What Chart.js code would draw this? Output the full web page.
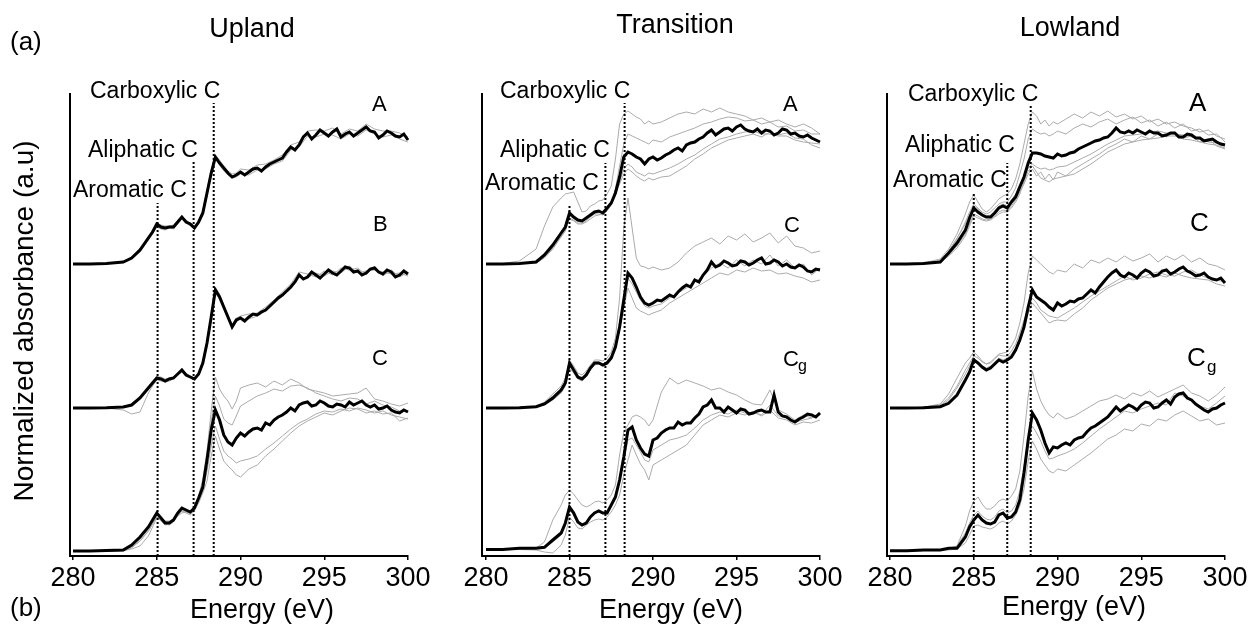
<!DOCTYPE html>
<html><head><meta charset="utf-8">
<script src="https://cdn.jsdelivr.net/npm/chart.js@4.4.1/dist/chart.umd.min.js"></script>
<style>
html,body{margin:0;padding:0;background:#fff;}
#wrap{position:relative;width:1252px;height:627px;overflow:hidden;background:#fff;}
canvas{position:absolute;left:0;top:0;}
</style></head><body><div id="wrap">
<canvas id="c1" width="1252" height="627"></canvas>
<canvas id="c2" width="1252" height="627"></canvas>
<canvas id="c3" width="1252" height="627"></canvas>
</div>
<script>
// ---------- DATA ----------
// energy grid of the individual (grey) spectra
const energy = [280,281,282,283,283.5,284,284.5,284.75,285,285.25,285.5,285.75,286,286.25,286.5,286.75,287,287.25,287.5,287.75,288,288.25,288.5,288.75,289,289.25,289.5,289.75,290,290.5,291,291.5,292,292.5,293,293.5,294,294.5,295,295.5,296,296.5,297,297.5,298,298.5,299,299.5,300];
// energy grid of the mean (black) spectra
const energyFine = [280,281,282,283,283.5,284,284.5,284.75,285,285.25,285.5,285.75,286,286.25,286.5,286.75,287,287.25,287.5,287.75,288,288.25,288.5,288.75,289,289.25,289.5,289.75,290,290.25,290.5,290.75,291,291.25,291.5,291.75,292,292.25,292.5,292.75,293,293.25,293.5,293.75,294,294.25,294.5,294.75,295,295.25,295.5,295.75,296,296.25,296.5,296.75,297,297.25,297.5,297.75,298,298.25,298.5,298.75,299,299.25,299.5,299.75,300];
const tickValues = [280,285,290,295,300];

// Upland
const uplandA = [0,0,0.005,0.02,0.06,0.14,0.26,0.32,0.40,0.37,0.36,0.37,0.37,0.42,0.47,0.42,0.40,0.36,0.42,0.51,0.71,0.91,1.07,1.01,0.96,0.91,0.87,0.89,
 0.92,0.89,0.92,0.95,0.96,0.93,0.97,1.00,1.02,1.04,1.06,1.12,1.17,1.14,1.19,1.27,1.31,1.25,1.29,1.34,1.31,1.28,1.32,1.35,1.27,1.30,1.32,1.28,1.31,1.34,1.37,1.33,1.32,1.26,1.29,1.33,1.31,1.28,1.27,1.30,1.24];
const uplandA_s1 = [0,0,0.005,0.02,0.07,0.16,0.28,0.34,0.41,0.39,0.38,0.38,0.39,0.43,0.48,0.44,0.41,0.38,0.43,0.53,0.74,0.94,1.09,1.04,0.98,0.93,0.90,0.91,0.95,0.94,0.99,1.00,1.04,1.09,1.19,1.22,1.33,1.34,1.33,1.36,1.30,1.35,1.33,1.40,1.35,1.33,1.33,1.31,1.27];
const uplandA_s2 = [0,0,0.005,0.015,0.05,0.12,0.24,0.30,0.37,0.35,0.34,0.36,0.35,0.40,0.45,0.41,0.38,0.35,0.40,0.49,0.68,0.88,1.05,0.99,0.93,0.89,0.86,0.87,0.90,0.89,0.94,0.95,1.00,1.03,1.14,1.17,1.28,1.27,1.30,1.29,1.25,1.30,1.28,1.34,1.30,1.27,1.29,1.25,1.22];
const uplandB = [0,0,0.003,0.01,0.03,0.10,0.20,0.25,0.30,0.29,0.27,0.29,0.30,0.34,0.38,0.33,0.31,0.29,0.34,0.45,0.65,0.91,1.18,1.11,1.01,0.91,0.81,0.88,
 0.90,0.87,0.91,0.94,0.93,0.96,0.98,1.02,1.06,1.10,1.13,1.17,1.21,1.26,1.33,1.29,1.31,1.36,1.33,1.30,1.34,1.38,1.35,1.33,1.37,1.41,1.40,1.36,1.37,1.33,1.35,1.39,1.40,1.36,1.34,1.38,1.36,1.31,1.33,1.37,1.34];
const uplandB_s1 = [0,0,0,-0.02,-0.06,-0.04,0.15,0.22,0.28,0.27,0.26,0.27,0.29,0.33,0.36,0.32,0.30,0.28,0.33,0.43,0.62,0.88,1.15,1.09,0.99,0.90,0.82,0.86,0.89,0.89,0.92,0.97,1.04,1.12,1.19,1.31,1.30,1.35,1.32,1.37,1.35,1.42,1.35,1.37,1.38,1.36,1.34,1.35,1.32];
const uplandB_s2 = [0,0,0.005,0.01,0.04,0.12,0.22,0.27,0.31,0.31,0.29,0.30,0.31,0.35,0.39,0.35,0.32,0.30,0.35,0.47,0.67,0.94,1.21,1.14,1.03,0.93,0.84,0.90,0.92,0.94,0.95,1.01,1.08,1.16,1.24,1.36,1.34,1.31,1.37,1.33,1.40,1.38,1.40,1.33,1.42,1.32,1.38,1.31,1.36];
const uplandC = [0,0,0.005,0.01,0.06,0.14,0.24,0.31,0.38,0.33,0.28,0.28,0.31,0.38,0.43,0.41,0.39,0.43,0.53,0.64,0.91,1.21,1.41,1.31,1.16,1.09,1.06,1.13,
 1.18,1.15,1.19,1.22,1.23,1.21,1.28,1.26,1.31,1.34,1.36,1.39,1.43,1.40,1.46,1.48,1.49,1.45,1.46,1.50,1.48,1.45,1.44,1.47,1.46,1.44,1.49,1.46,1.48,1.50,1.46,1.44,1.46,1.42,1.43,1.45,1.41,1.39,1.38,1.41,1.39];
const uplandC_s1 = [0,0,0,0.005,0.02,0.05,0.15,0.24,0.33,0.31,0.30,0.30,0.32,0.35,0.38,0.39,0.40,0.45,0.55,0.72,1.00,1.40,1.74,1.62,1.55,1.50,1.42,1.50,1.63,1.66,1.68,1.64,1.70,1.66,1.72,1.68,1.62,1.60,1.58,1.55,1.56,1.57,1.58,1.63,1.52,1.50,1.47,1.45,1.48];
const uplandC_s2 = [0,0,0.005,0.01,0.04,0.10,0.20,0.27,0.34,0.32,0.29,0.29,0.31,0.36,0.40,0.40,0.38,0.42,0.52,0.66,0.95,1.30,1.55,1.45,1.32,1.28,1.26,1.35,1.45,1.50,1.55,1.58,1.62,1.60,1.65,1.66,1.63,1.58,1.55,1.52,1.50,1.53,1.52,1.47,1.50,1.46,1.44,1.40,1.40];
const uplandC_s3 = [0,0,0.005,0.01,0.05,0.12,0.22,0.29,0.36,0.32,0.27,0.26,0.29,0.35,0.40,0.38,0.36,0.40,0.48,0.58,0.70,0.95,1.15,1.02,0.90,0.85,0.81,0.76,0.74,0.82,0.86,0.95,1.02,1.10,1.18,1.25,1.30,1.34,1.38,1.36,1.40,1.43,1.42,1.38,1.40,1.37,1.38,1.30,1.33];
const uplandC_s4 = [0,0,0,0,0.03,0.10,0.20,0.27,0.34,0.30,0.26,0.27,0.30,0.36,0.41,0.39,0.37,0.41,0.50,0.60,0.80,1.05,1.25,1.12,1.00,0.95,0.92,0.88,0.90,0.92,0.95,1.02,1.08,1.15,1.22,1.28,1.32,1.37,1.40,1.39,1.42,1.40,1.43,1.41,1.38,1.40,1.36,1.34,1.32];
const uplandOffsets = [2.92, 1.48, 0.05];
const uplandPeakE = [285.05, 287.2, 288.4];
const uplandPeakTop = [3.53, 3.95, 4.53];

// Transition
const transA = [0,0,0.005,0.02,0.09,0.19,0.31,0.37,0.51,0.47,0.44,0.43,0.46,0.49,0.52,0.53,0.51,0.56,0.61,0.71,0.87,1.07,1.12,1.10,1.07,1.05,1.00,1.05,
 1.07,1.04,1.06,1.09,1.11,1.14,1.16,1.13,1.19,1.21,1.22,1.25,1.27,1.31,1.34,1.29,1.32,1.35,1.36,1.33,1.37,1.39,1.35,1.33,1.32,1.35,1.31,1.34,1.33,1.29,1.31,1.35,1.34,1.30,1.31,1.28,1.27,1.29,1.26,1.24,1.22];
const transA_s1 = [0,0.005,0.03,0.15,0.38,0.57,0.66,0.70,0.71,0.72,0.62,0.52,0.53,0.58,0.60,0.63,0.64,0.70,0.78,1.05,1.40,1.50,1.53,1.50,1.47,1.45,1.40,1.43,1.40,1.42,1.46,1.50,1.52,1.50,1.55,1.52,1.56,1.52,1.50,1.48,1.44,1.46,1.42,1.44,1.40,1.37,1.40,1.36,1.30];
const transA_s2 = [0,0,0.005,0.02,0.08,0.18,0.30,0.36,0.48,0.46,0.43,0.43,0.45,0.48,0.51,0.52,0.51,0.55,0.62,0.75,0.98,1.20,1.30,1.28,1.26,1.24,1.22,1.20,1.24,1.22,1.27,1.30,1.33,1.36,1.40,1.42,1.45,1.47,1.46,1.43,1.44,1.40,1.42,1.37,1.38,1.33,1.34,1.30,1.30];
const transA_s3 = [0,0,0.005,0.01,0.06,0.15,0.27,0.33,0.45,0.43,0.40,0.40,0.42,0.45,0.48,0.49,0.50,0.54,0.60,0.70,0.80,0.90,0.95,0.92,0.88,0.85,0.83,0.86,0.84,0.87,0.88,0.93,0.98,1.05,1.10,1.16,1.20,1.24,1.26,1.28,1.30,1.27,1.32,1.29,1.31,1.26,1.25,1.19,1.16];
const transA_s4 = [0,0,0.005,0.015,0.07,0.16,0.28,0.34,0.46,0.44,0.41,0.41,0.43,0.47,0.50,0.50,0.49,0.53,0.59,0.69,0.82,0.95,1.00,0.97,0.92,0.90,0.88,0.91,0.90,0.93,0.96,1.00,1.05,1.09,1.15,1.20,1.25,1.27,1.30,1.32,1.33,1.30,1.30,1.28,1.28,1.24,1.22,1.21,1.20];
const transC = [0,0,0.003,0.013,0.04,0.10,0.18,0.25,0.45,0.38,0.31,0.29,0.33,0.40,0.45,0.45,0.43,0.45,0.50,0.61,0.81,1.08,1.35,1.30,1.21,1.11,1.05,1.03,
 1.05,1.08,1.07,1.10,1.13,1.11,1.16,1.20,1.23,1.21,1.28,1.26,1.33,1.38,1.46,1.41,1.43,1.47,1.45,1.42,1.43,1.47,1.46,1.43,1.45,1.48,1.50,1.44,1.45,1.48,1.46,1.42,1.44,1.41,1.40,1.43,1.41,1.37,1.36,1.39,1.38];
const transC_s1 = [0,0,0.005,0.02,0.06,0.14,0.22,0.30,0.48,0.42,0.35,0.33,0.37,0.43,0.48,0.48,0.47,0.50,0.56,0.70,1.10,1.80,2.10,1.80,1.50,1.42,1.41,1.39,1.41,1.38,1.40,1.46,1.55,1.62,1.66,1.70,1.64,1.72,1.68,1.74,1.66,1.70,1.75,1.65,1.72,1.62,1.60,1.55,1.57];
const transC_s2 = [0,0,0.003,0.01,0.03,0.08,0.15,0.22,0.40,0.35,0.29,0.27,0.31,0.38,0.43,0.44,0.42,0.44,0.49,0.60,0.78,1.00,1.20,1.10,1.00,0.97,0.95,0.93,0.95,0.98,1.05,1.10,1.15,1.20,1.25,1.30,1.35,1.33,1.38,1.36,1.40,1.37,1.38,1.34,1.35,1.32,1.30,1.26,1.28];
const transC_s3 = [0,0,0.003,0.015,0.05,0.12,0.20,0.27,0.42,0.37,0.32,0.31,0.35,0.41,0.46,0.46,0.44,0.47,0.53,0.65,0.85,1.12,1.30,1.24,1.16,1.08,1.02,1.00,1.02,1.04,1.10,1.15,1.20,1.26,1.32,1.40,1.45,1.40,1.48,1.42,1.48,1.44,1.53,1.42,1.48,1.40,1.44,1.33,1.40];
const transCg = [0.005,0.005,0.017,0.017,0.027,0.10,0.17,0.27,0.43,0.37,0.28,0.25,0.27,0.33,0.37,0.39,0.37,0.37,0.45,0.53,0.70,0.93,1.20,1.23,1.10,1.02,0.96,0.94,
 1.10,1.12,1.17,1.20,1.22,1.22,1.28,1.25,1.27,1.27,1.32,1.36,1.43,1.45,1.50,1.42,1.42,1.38,1.43,1.40,1.37,1.41,1.40,1.36,1.37,1.39,1.40,1.38,1.38,1.55,1.38,1.34,1.33,1.30,1.28,1.31,1.33,1.36,1.35,1.33,1.37];
const transCg_s1 = [0.005,0.005,0.01,0.02,0.08,0.30,0.45,0.55,0.60,0.56,0.50,0.45,0.43,0.45,0.48,0.49,0.47,0.50,0.55,0.65,0.95,1.18,1.25,1.33,1.35,1.33,1.30,1.24,1.30,1.58,1.72,1.66,1.70,1.67,1.64,1.60,1.62,1.58,1.55,1.50,1.46,1.45,1.60,1.40,1.36,1.30,1.35,1.32,1.38];
const transCg_s2 = [0.005,0.005,0.005,0,-0.02,-0.03,0.05,0.15,0.33,0.28,0.22,0.21,0.25,0.28,0.30,0.31,0.30,0.33,0.38,0.45,0.55,0.75,0.90,1.05,0.95,0.86,0.80,0.70,0.85,0.90,0.95,1.00,1.05,1.15,1.25,1.30,1.35,1.33,1.37,1.35,1.38,1.34,1.40,1.32,1.30,1.25,1.28,1.27,1.30];
const transCg_s3 = [0.005,0.005,0.01,0.015,0.03,0.08,0.15,0.24,0.40,0.35,0.27,0.26,0.28,0.33,0.37,0.38,0.36,0.38,0.44,0.52,0.68,0.90,1.10,1.12,1.05,0.98,0.90,0.88,1.00,1.05,1.10,1.12,1.15,1.22,1.30,1.35,1.38,1.36,1.40,1.37,1.38,1.35,1.45,1.34,1.33,1.28,1.30,1.32,1.35];
const transOffsets = [2.92, 1.48, 0.06];
const transPeakE = [285.0, 287.15, 288.3];
const transPeakTop = [3.52, 3.93, 4.53];

// Lowland
const lowA = [0,0,0.005,0.02,0.11,0.21,0.34,0.46,0.56,0.52,0.49,0.47,0.47,0.51,0.56,0.58,0.56,0.62,0.67,0.77,0.87,1.01,1.11,1.11,1.10,1.08,1.07,1.06,
 1.10,1.08,1.09,1.11,1.12,1.15,1.17,1.19,1.21,1.23,1.24,1.26,1.27,1.31,1.36,1.32,1.31,1.33,1.31,1.34,1.32,1.30,1.33,1.31,1.31,1.28,1.29,1.31,1.31,1.27,1.27,1.30,1.29,1.26,1.26,1.23,1.24,1.25,1.22,1.20,1.19];
const lowA_s1 = [0,0,0.01,0.05,0.15,0.30,0.50,0.62,0.69,0.62,0.55,0.52,0.55,0.60,0.65,0.68,0.70,0.75,0.85,1.00,1.20,1.40,1.52,1.48,1.40,1.44,1.38,1.42,1.40,1.45,1.50,1.46,1.52,1.48,1.53,1.47,1.50,1.45,1.48,1.42,1.45,1.40,1.42,1.38,1.36,1.32,1.34,1.28,1.25];
const lowA_s2 = [0,0,0.005,0.03,0.12,0.25,0.42,0.52,0.60,0.56,0.52,0.50,0.52,0.56,0.60,0.62,0.62,0.68,0.76,0.90,1.05,1.25,1.35,1.32,1.30,1.31,1.28,1.30,1.33,1.30,1.36,1.40,1.37,1.42,1.45,1.40,1.44,1.47,1.41,1.44,1.38,1.42,1.36,1.40,1.33,1.35,1.29,1.30,1.22];
const lowA_s3 = [0,0,0.005,0.02,0.09,0.18,0.30,0.40,0.50,0.48,0.45,0.44,0.45,0.48,0.52,0.54,0.53,0.58,0.64,0.72,0.80,0.90,0.95,0.88,0.92,0.85,0.90,0.84,0.92,0.88,0.95,1.00,1.05,1.10,1.16,1.20,1.25,1.22,1.28,1.25,1.30,1.27,1.32,1.26,1.28,1.22,1.25,1.18,1.15];
const lowA_s4 = [0,0,0.005,0.02,0.08,0.16,0.28,0.38,0.48,0.46,0.44,0.43,0.44,0.47,0.50,0.52,0.52,0.56,0.62,0.70,0.82,0.93,0.98,0.92,0.86,0.84,0.82,0.85,0.86,0.88,0.90,0.95,1.00,1.06,1.12,1.16,1.20,1.22,1.24,1.25,1.26,1.28,1.28,1.25,1.24,1.22,1.20,1.19,1.16];
const lowA_s5 = [0,0,0.008,0.035,0.13,0.26,0.40,0.50,0.58,0.55,0.50,0.48,0.49,0.53,0.58,0.60,0.58,0.64,0.70,0.80,0.88,0.96,1.00,0.97,0.95,0.96,0.94,0.95,0.97,0.98,1.02,1.06,1.10,1.15,1.20,1.24,1.28,1.29,1.30,1.32,1.33,1.31,1.30,1.29,1.27,1.25,1.22,1.21,1.20];
const lowC = [0,0,0.003,0.013,0.047,0.13,0.28,0.36,0.48,0.45,0.41,0.38,0.40,0.44,0.48,0.46,0.48,0.51,0.58,0.68,0.81,1.01,1.18,1.11,1.08,1.05,1.01,0.98,
 1.05,1.02,1.04,1.07,1.06,1.09,1.10,1.14,1.18,1.15,1.21,1.26,1.31,1.35,1.38,1.33,1.31,1.35,1.33,1.30,1.35,1.38,1.36,1.32,1.33,1.37,1.38,1.34,1.36,1.39,1.41,1.37,1.35,1.32,1.33,1.35,1.31,1.29,1.28,1.30,1.25];
const lowC_s1 = [0,0,0.01,0.03,0.10,0.22,0.38,0.45,0.52,0.50,0.46,0.44,0.46,0.50,0.54,0.55,0.56,0.62,0.70,0.85,1.05,1.35,1.52,1.48,1.44,1.40,1.36,1.34,1.38,1.36,1.44,1.40,1.48,1.45,1.50,1.46,1.52,1.47,1.50,1.54,1.46,1.52,1.48,1.53,1.46,1.50,1.44,1.42,1.38];
const lowC_s2 = [0,0,0.003,0.02,0.08,0.20,0.34,0.42,0.50,0.46,0.42,0.40,0.42,0.46,0.50,0.48,0.50,0.54,0.60,0.70,0.80,0.95,1.05,1.00,0.95,0.90,0.85,0.87,0.88,0.87,0.94,1.00,1.08,1.14,1.20,1.24,1.28,1.30,1.32,1.30,1.33,1.31,1.35,1.32,1.30,1.29,1.28,1.24,1.22];
const lowC_s3 = [0,0,0.008,0.04,0.14,0.30,0.45,0.50,0.56,0.52,0.47,0.44,0.45,0.49,0.53,0.52,0.52,0.57,0.64,0.75,0.88,1.00,1.10,1.05,0.98,0.95,0.92,0.91,0.90,0.95,1.00,1.06,1.12,1.17,1.22,1.27,1.32,1.28,1.30,1.34,1.36,1.33,1.32,1.36,1.38,1.33,1.30,1.28,1.26];
const lowCg = [0.003,0.003,0.01,0.01,0.027,0.027,0.14,0.24,0.31,0.36,0.31,0.28,0.27,0.29,0.36,0.38,0.33,0.34,0.39,0.51,0.78,1.11,1.38,1.31,1.21,1.08,0.98,1.04,
 1.03,1.06,1.08,1.06,1.11,1.13,1.14,1.19,1.23,1.25,1.28,1.31,1.34,1.39,1.44,1.40,1.43,1.46,1.44,1.41,1.46,1.49,1.48,1.43,1.44,1.48,1.51,1.47,1.54,1.57,1.58,1.53,1.51,1.47,1.44,1.41,1.39,1.42,1.43,1.46,1.48];
const lowCg_s1 = [0,0,0.005,0.01,0.02,0.05,0.25,0.40,0.50,0.54,0.47,0.42,0.42,0.45,0.50,0.52,0.50,0.55,0.62,0.80,1.15,1.55,1.80,1.62,1.50,1.42,1.36,1.33,1.38,1.32,1.35,1.40,1.45,1.50,1.52,1.56,1.52,1.58,1.55,1.60,1.54,1.58,1.62,1.66,1.58,1.55,1.50,1.56,1.64];
const lowCg_s2 = [0,0,0.005,0.005,0.01,0.02,0.08,0.16,0.25,0.26,0.24,0.23,0.22,0.24,0.28,0.30,0.27,0.30,0.36,0.45,0.62,0.90,1.10,1.02,0.92,0.86,0.80,0.78,0.82,0.80,0.86,0.92,0.98,1.05,1.12,1.16,1.22,1.20,1.27,1.25,1.32,1.30,1.36,1.40,1.35,1.30,1.32,1.26,1.28];
const lowCg_s3 = [0.003,0.003,0.01,0.015,0.03,0.05,0.18,0.28,0.36,0.40,0.35,0.32,0.31,0.34,0.40,0.42,0.38,0.40,0.46,0.60,0.85,1.10,1.25,1.18,1.10,1.00,0.92,0.93,0.95,0.98,1.02,1.08,1.15,1.22,1.28,1.34,1.40,1.38,1.42,1.45,1.48,1.46,1.58,1.55,1.50,1.45,1.42,1.48,1.55];
const lowOffsets = [2.92, 1.48, 0.05];
const lowPeakE = [285.0, 287.0, 288.4];
const lowPeakTop = [3.64, 3.93, 4.52];

// ---------- RENDER ----------
const FONT = "'Liberation Sans', Arial, Helvetica, sans-serif";
const GREY = '#ababab';

const textPlugin = {
  id: 'panelText',
  afterDraw(chart, args, o) {
    const ctx = chart.ctx;
    ctx.save();
    ctx.fillStyle = '#000';
    (o.items || []).forEach(t => {
      ctx.font = t.size + 'px ' + FONT;
      ctx.textAlign = t.align || 'left';
      ctx.textBaseline = 'alphabetic';
      if (t.rot) {
        ctx.save(); ctx.translate(t.x, t.y); ctx.rotate(-Math.PI / 2);
        ctx.fillText(t.text, 0, 0); ctx.restore();
      } else {
        ctx.fillText(t.text, t.x, t.y);
      }
    });
    ctx.restore();
  }
};

function pts(xs, vals, off) { return xs.map((e, i) => ({ x: e, y: vals[i] + off })); }

function makePanel(id, p) {
  const ds = [];
  p.series.forEach((s, k) => {
    s.greys.forEach(g => ds.push({ data: pts(energy, g, p.offsets[k]), borderColor: GREY, borderWidth: 1, order: 2 }));
    ds.push({ data: pts(energyFine, s.mean, p.offsets[k]), borderColor: '#000', borderWidth: 3, order: 1 });
  });
  p.peakE.forEach((e, k) => ds.push({
    data: [{ x: e, y: 0 }, { x: e, y: p.peakTop[k] }],
    borderColor: '#000', borderWidth: 2, borderDash: [2, 2], order: 0
  }));
  ds.forEach(d => { d.pointRadius = 0; d.tension = 0; d.fill = false; d.clip = false; });
  new Chart(document.getElementById(id), {
    type: 'line',
    data: { datasets: ds },
    plugins: [textPlugin],
    options: {
      responsive: false, animation: false, devicePixelRatio: 1,
      layout: { padding: { left: p.left, right: 1252 - p.right, top: 94, bottom: 0 } },
      plugins: { legend: { display: false }, tooltip: { enabled: false }, panelText: { items: p.texts } },
      scales: {
        x: {
          type: 'linear', min: p.xMin, max: 300,
          afterBuildTicks: s => { s.ticks = tickValues.map(v => ({ value: v })); },
          afterFit: s => { s.height = 71; },
          ticks: { font: { family: FONT, size: 27 }, color: '#000', padding: 2, maxRotation: 0, autoSkip: false, callback: v => String(v) },
          grid: { display: true, drawOnChartArea: false, drawTicks: true, tickLength: 4, color: '#000', lineWidth: 1.5 },
          border: { display: true, color: '#000', width: 2 }
        },
        y: {
          type: 'linear', min: 0, max: 4.62,
          ticks: { display: false }, grid: { display: false },
          border: { display: true, color: '#000', width: 2 },
          afterFit: s => { s.width = 0; }
        }
      }
    }
  });
}

makePanel('c1', {
  left: 70, right: 408, xMin: 279.82,
  offsets: uplandOffsets, peakE: uplandPeakE, peakTop: uplandPeakTop,
  series: [
    { mean: uplandA, greys: [uplandA_s1, uplandA_s2] },
    { mean: uplandB, greys: [uplandB_s1, uplandB_s2] },
    { mean: uplandC, greys: [uplandC_s1, uplandC_s2, uplandC_s3, uplandC_s4] }
  ],
  texts: [
    { text: '(a)', x: 10, y: 50, size: 26 },
    { text: '(b)', x: 10, y: 616, size: 26 },
    { text: 'Normalized absorbance (a.u)', x: 33, y: 321, size: 28, align: 'center', rot: true },
    { text: 'Upland', x: 252, y: 37, size: 27, align: 'center' },
    { text: 'Carboxylic C', x: 90, y: 98, size: 23 },
    { text: 'Aliphatic C', x: 88, y: 157, size: 23 },
    { text: 'Aromatic C', x: 73, y: 197, size: 23 },
    { text: 'A', x: 372, y: 111, size: 22 },
    { text: 'B', x: 373, y: 231, size: 22 },
    { text: 'C', x: 372, y: 365, size: 22 },
    { text: 'Energy (eV)', x: 262, y: 618, size: 27, align: 'center' }
  ]
});

makePanel('c2', {
  left: 482, right: 820, xMin: 279.76,
  offsets: transOffsets, peakE: transPeakE, peakTop: transPeakTop,
  series: [
    { mean: transA, greys: [transA_s1, transA_s2, transA_s3, transA_s4] },
    { mean: transC, greys: [transC_s1, transC_s2, transC_s3] },
    { mean: transCg, greys: [transCg_s1, transCg_s2, transCg_s3] }
  ],
  texts: [
    { text: 'Transition', x: 675, y: 33, size: 27, align: 'center' },
    { text: 'Carboxylic C', x: 500, y: 98, size: 23 },
    { text: 'Aliphatic C', x: 500, y: 157, size: 23 },
    { text: 'Aromatic C', x: 485, y: 190, size: 23 },
    { text: 'A', x: 783, y: 111, size: 22 },
    { text: 'C', x: 784, y: 232, size: 22 },
    { text: 'C', x: 783, y: 366, size: 22 },
    { text: 'g', x: 798, y: 371, size: 16 },
    { text: 'Energy (eV)', x: 671, y: 618, size: 27, align: 'center' }
  ]
});

makePanel('c3', {
  left: 887, right: 1225, xMin: 279.82,
  offsets: lowOffsets, peakE: lowPeakE, peakTop: lowPeakTop,
  series: [
    { mean: lowA, greys: [lowA_s1, lowA_s2, lowA_s3, lowA_s4, lowA_s5] },
    { mean: lowC, greys: [lowC_s1, lowC_s2, lowC_s3] },
    { mean: lowCg, greys: [lowCg_s1, lowCg_s2, lowCg_s3] }
  ],
  texts: [
    { text: 'Lowland', x: 1070, y: 36, size: 27, align: 'center' },
    { text: 'Carboxylic C', x: 908, y: 101, size: 23 },
    { text: 'Aliphatic C', x: 905, y: 152, size: 23 },
    { text: 'Aromatic C', x: 893, y: 187, size: 23 },
    { text: 'A', x: 1189, y: 111, size: 26 },
    { text: 'C', x: 1190, y: 231, size: 26 },
    { text: 'C', x: 1187, y: 366, size: 26 },
    { text: 'g', x: 1207, y: 372, size: 17 },
    { text: 'Energy (eV)', x: 1074, y: 615, size: 27, align: 'center' }
  ]
});
</script>
</body></html>
